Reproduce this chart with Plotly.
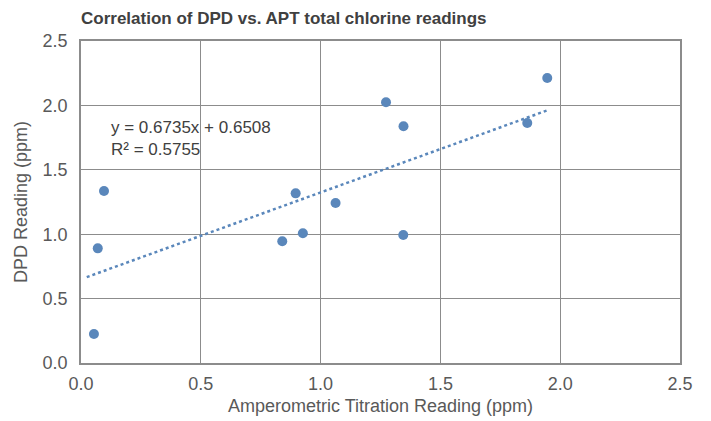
import plotly.graph_objects as go

# Data
apt_ppm = [0.054, 0.07, 0.096, 0.84, 0.896, 0.926, 1.0625, 1.273, 1.346, 1.345, 1.8625, 1.946]
dpd_ppm = [0.225, 0.89, 1.335, 0.945, 1.317, 1.007, 1.242, 2.025, 1.838, 0.994, 1.863, 2.213]
slope = 0.6735
intercept = 0.6508
r_squared = 0.5755
tick_vals = [0.0, 0.5, 1.0, 1.5, 2.0, 2.5]

font_family = "Liberation Sans, Arial, Helvetica, sans-serif"
text_color = "#595959"
grid_color = "#8c8c8c"
marker_color = "#5a87bb"

x_trend = [min(apt_ppm) - 0.03, max(apt_ppm)]
y_trend = [slope * x + intercept for x in x_trend]

fig = go.Figure()
fig.add_trace(go.Scatter(
    x=x_trend, y=y_trend, mode="lines",
    line=dict(color=marker_color, width=2.5, dash="dot"),
    hoverinfo="skip", showlegend=False,
))
fig.add_trace(go.Scatter(
    x=apt_ppm, y=dpd_ppm, mode="markers",
    marker=dict(color=marker_color, size=10),
    showlegend=False,
))

fig.add_annotation(
    x=0.115, y=1.745, xref="x", yref="y", xanchor="left", yanchor="middle",
    text=f"y = {slope}x + {intercept}<br>R² = {r_squared}",
    showarrow=False, align="left",
    font=dict(family=font_family, size=17, color="#404040"),
)

axis_common = dict(
    range=[0, 2.5], tickvals=tick_vals, tickformat=".1f",
    showgrid=True, gridcolor=grid_color, gridwidth=1.2,
    showline=True, linecolor=grid_color, linewidth=1.5, mirror=True,
    zeroline=False, ticks="", automargin=False,
    tickfont=dict(family=font_family, size=18, color=text_color),
)

fig.update_layout(
    width=703, height=413,
    margin=dict(l=73, r=31, t=33, b=58),
    paper_bgcolor="white", plot_bgcolor="white",
    title=dict(
        text="<b>Correlation of DPD vs. APT total chlorine readings</b>",
        x=73 / 703, xref="container", xanchor="left", y=1 - 10 / 413, yanchor="middle",
        font=dict(family=font_family, size=17, color="#404040"),
    ),
    xaxis=dict(**axis_common, ticklabelstandoff=4,
               title=dict(text="Amperometric Titration Reading (ppm)",
                          font=dict(family=font_family, size=18, color=text_color), standoff=6)),
    yaxis=dict(**axis_common, ticklabelstandoff=8,
               title=dict(text="DPD Reading (ppm)",
                          font=dict(family=font_family, size=18, color=text_color), standoff=10)),
)

fig.write_html("out.html")
